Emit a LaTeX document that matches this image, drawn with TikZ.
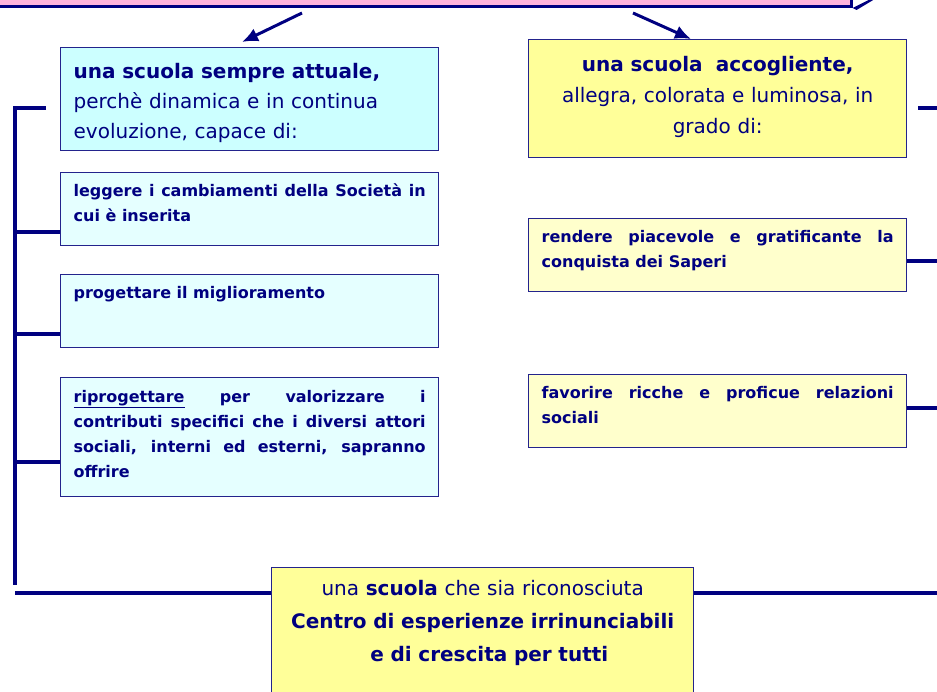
\documentclass[tikz,border=0pt]{standalone}
\usepackage{fontspec}
\setmainfont{DejaVu Sans}
\usetikzlibrary{arrows,arrows.meta,shapes,positioning}
\definecolor{navyblu}{RGB}{0,0,128}
\definecolor{bordo}{RGB}{35,35,140}
\definecolor{rosa}{RGB}{255,180,220}
\definecolor{azzurro}{RGB}{204,255,255}
\definecolor{azzurrino}{RGB}{229,255,255}
\definecolor{giallo}{RGB}{255,255,153}
\definecolor{giallino}{RGB}{255,255,204}
\hyphenpenalty=10000
\exhyphenpenalty=10000

\begin{document}
\begin{tikzpicture}[x=1pt,y=-1pt]
                    \tikzstyle{every node}+=[inner xsep=13pt,inner ysep=0pt,text=navyblu]
                    \tikzstyle{box}=[draw=bordo,line width=1.3pt,anchor=north west,text width=352pt]
                    \tikzstyle{bigtext}=[font=\fontsize{20}{30}\selectfont]
                    \tikzstyle{smalltext}=[font=\fontsize{16}{25}\selectfont\bfseries,align=justify]
                    \tikzstyle{rail}=[draw=navyblu,line width=3.5pt]
                    \tikzstyle{freccia}=[draw=navyblu,line width=3pt,-{Latex[length=16pt,width=14pt]}]
                    \useasboundingbox (0,0) rectangle (937,692);
                    \clip (0,0) rectangle (937,692);
                    \node [fill=rosa,draw=navyblu,line width=2.5pt,minimum width=855pt,minimum height=70pt,anchor=south west] (titolo) at (-5,8) {};
                    \fill [navyblu] (titolo.south east) -- ++(20,-10) -- ++(4,0) -- ++(-20,12) -- cycle;
                    \node [box,fill=azzurro,bigtext,align=left,text height=31pt,text depth=72pt] (attuale) at (60,47) {\textbf{una scuola sempre attuale,}\\perchè dinamica e in continua\\evoluzione, capace di:};
                    \node [box,fill=giallo,bigtext,align=center,font=\fontsize{20}{31}\selectfont,text height=31.5pt,text depth=86.5pt] (accogliente) at (528,39) {\textbf{una scuola~\ accogliente,}\\allegra, colorata e luminosa, in\\grado di:};
                    \node [box,fill=azzurrino,smalltext,text height=24pt,text depth=49pt] (leggere) at (60,172) {leggere i cambiamenti della Società in cui è inserita};
                    \node [box,fill=azzurrino,smalltext,text height=24pt,text depth=49pt] (progettare) at (60,274) {progettare il miglioramento};
                    \node [box,fill=azzurrino,smalltext,text height=25pt,text depth=94pt] (riprogettare) at (60,377) {\underline{riprogettare} per valorizzare i\linebreak contributi specifici che i diversi attori\linebreak sociali, interni ed esterni, sapranno\linebreak offrire};
                    \node [box,fill=giallino,smalltext,text height=24pt,text depth=49pt] (piacevole) at (528,218) {rendere piacevole e gratificante la conquista dei Saperi};
                    \node [box,fill=giallino,smalltext,text height=24pt,text depth=49pt] (relazioni) at (528,374) {favorire ricche e proficue relazioni sociali};
                    \node [box,fill=giallo,text width=396pt,align=center,font=\fontsize{20}{33}\selectfont,text height=28pt,text depth=150pt] (centro) at (271,567) {una \textbf{scuola} che sia riconosciuta\\\textbf{Centro di esperienze irrinunciabili}\\\textbf{\ \ e di crescita per tutti}};
                    \coordinate (daL) at (302,13);
                    \coordinate (aL) at (242,42);
                    \draw [freccia] (daL) -- (aL);
                    \coordinate (daR) at (633,13);
                    \coordinate (aR) at (691,39);
                    \draw [freccia] (daR) -- (aR);
                    \coordinate (stubL) at (46,108);
                    \coordinate (railL) at (15,108);
                    \coordinate (railLend) at (15,585);
                    \draw [rail] (stubL) -- (railL) -- (railLend);
                    \coordinate (ramo1) at (15,232);
                    \draw [rail] (ramo1) -- (ramo1 -| leggere.west);
                    \coordinate (ramo2) at (15,334);
                    \draw [rail] (ramo2) -- (ramo2 -| progettare.west);
                    \coordinate (ramo3) at (15,462);
                    \draw [rail] (ramo3) -- (ramo3 -| riprogettare.west);
                    \coordinate (baseL) at (15,593);
                    \draw [rail] (baseL) -- (baseL -| centro.west);
                    \coordinate (baseR) at (940,593);
                    \draw [rail] (centro.east |- baseR) -- (baseR);
                    \coordinate (stubR) at (918,108);
                    \coordinate (railR) at (940,108);
                    \draw [rail] (stubR) -- (railR);
                    \coordinate (ramoR1) at (940,261);
                    \draw [rail] (piacevole.east |- ramoR1) -- (ramoR1);
                    \coordinate (ramoR2) at (940,408);
                    \draw [rail] (relazioni.east |- ramoR2) -- (ramoR2);
                \end{tikzpicture}
\end{document}
